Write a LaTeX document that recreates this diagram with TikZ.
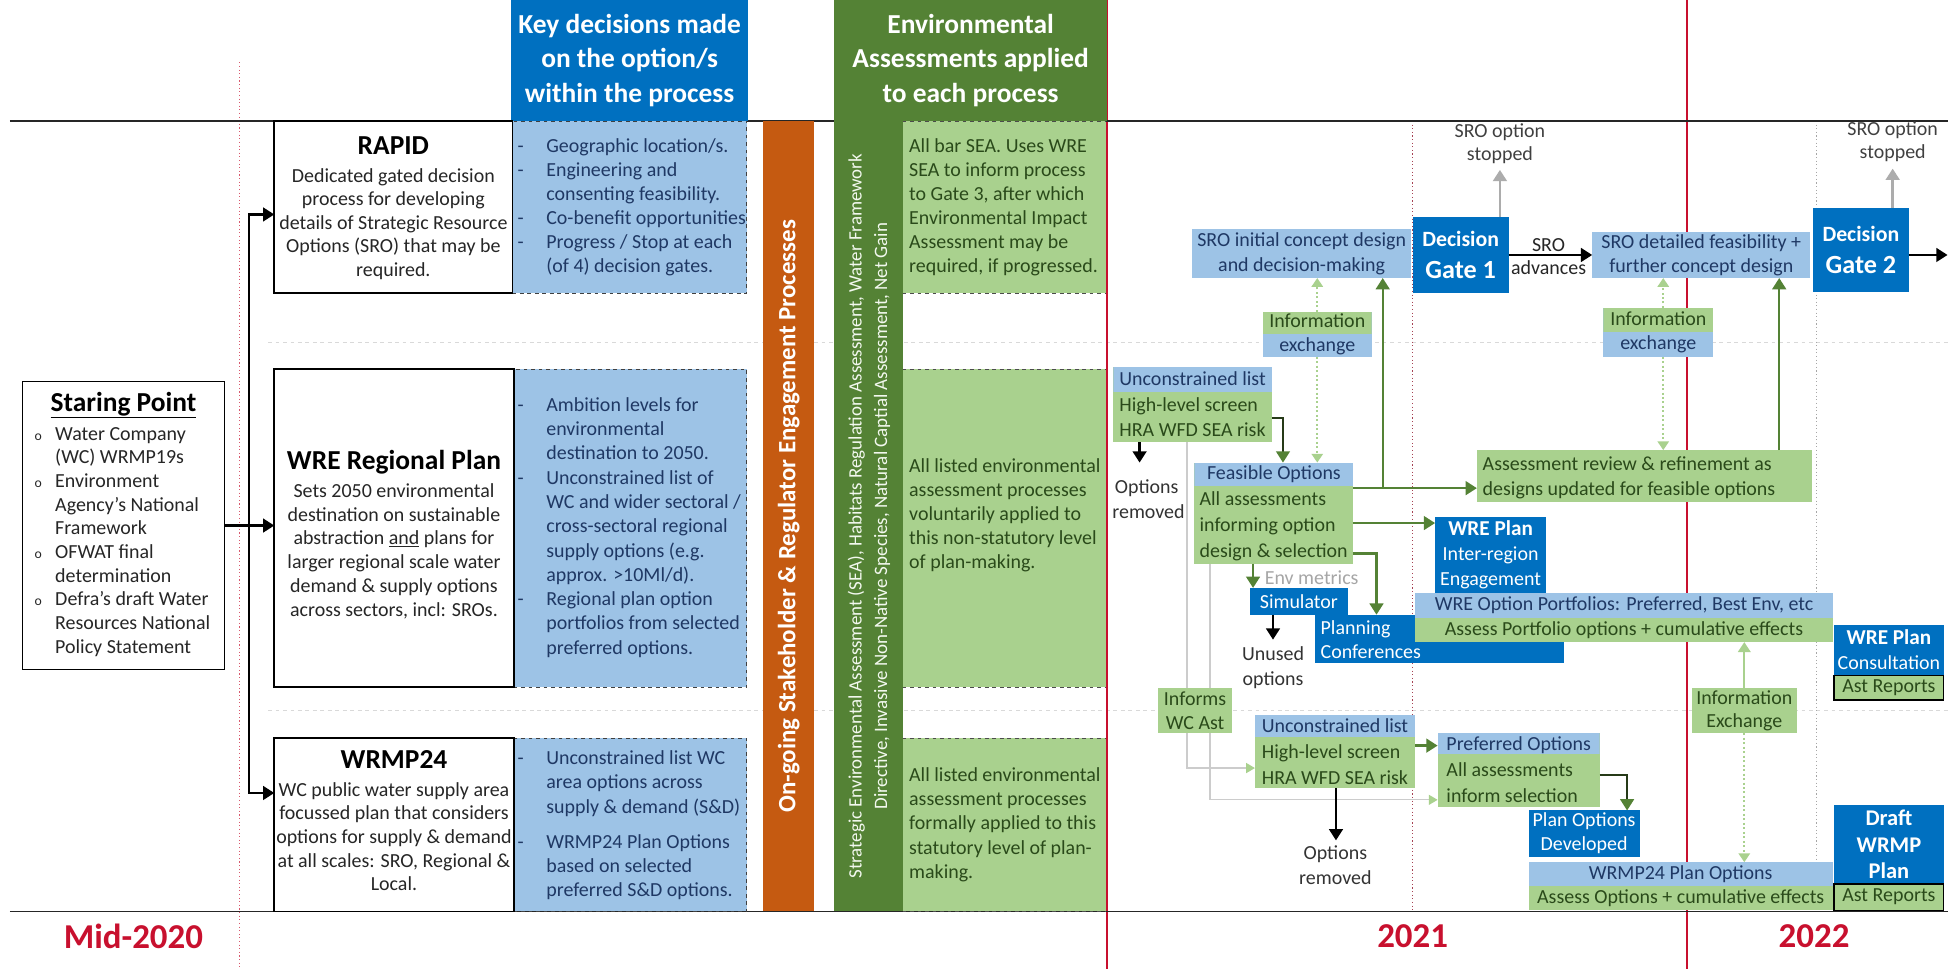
\documentclass[tikz,border=0pt]{standalone}
\usepackage{fontspec}
\setmainfont{Carlito}
\usetikzlibrary{arrows.meta}
\pgfdeclarelayer{bg}
\pgfsetlayers{bg,main}
\definecolor{dblue}{HTML}{0070C0}
\definecolor{lblue}{HTML}{9DC3E6}
\definecolor{lgreen}{HTML}{A9D18E}
\definecolor{dgreen}{HTML}{548235}
\definecolor{orng}{HTML}{C55A11}
\definecolor{redl}{HTML}{C8102E}
\definecolor{navy}{HTML}{1F3864}
\definecolor{dkg}{HTML}{2A4A1A}
\definecolor{txtc}{HTML}{262626}
\newcommand{\fsb}{\fontsize{16}{19.3}\selectfont}
\newcommand{\fst}{\fontsize{22}{26}\selectfont\bfseries}
\newcommand{\fsh}{\fontsize{22}{27.5}\selectfont\bfseries}
\newcommand{\mybul}{\makebox[16.6pt][l]{\fontsize{11}{11}\selectfont o}}
\newcommand{\myind}{\makebox[16.6pt][l]{}}
\newcommand{\mydsh}{\makebox[23pt][l]{-}}
\newcommand{\mynd}{\makebox[23pt][l]{}}
\begin{document}
\begin{tikzpicture}[x=1pt,y=-1pt,
  box/.style={inner sep=0pt, outer sep=0pt, anchor=north west},
  blkbox/.style={box, draw=black, line width=1.3pt, fill=white},
  kdbox/.style={box, fill=lblue, draw=black!75, dashed, line width=0.6pt},
  eabox/.style={box, fill=lgreen},
  txt/.style={inner sep=0pt, font=\fsb, text=txtc},
  band/.style={fill=lgreen, path picture={\fill[lblue] (path picture bounding box.north west) rectangle ([yshift=-#1pt]path picture bounding box.north east);}},
  gband/.style={fill=lblue, path picture={\fill[lgreen] (path picture bounding box.north west) rectangle ([yshift=-#1pt]path picture bounding box.north east);}},
  barr/.style={draw=black, line width=1.8pt, -{Triangle[length=9pt,width=11pt]}},
  garr/.style={draw=dgreen, line width=1.8pt, -{Triangle[length=9pt,width=11pt]}},
  gdk/.style={draw=black!55!dgreen, line width=1.6pt, -{Triangle[length=9pt,width=11pt,color=dgreen]}},
  grarr/.style={draw=gray!65, line width=2pt, -{Triangle[length=9pt,width=11pt]}},
  ldot/.style={draw=lgreen, line width=1.6pt, dotted, -{Triangle[length=7pt,width=9pt]}},
  lsol/.style={draw=lgreen, line width=1.8pt, -{Triangle[length=8pt,width=10pt]}},
  gline/.style={draw=gray!40, line width=1pt, -{Triangle[length=7pt,width=8pt,color=lgreen]}},
  dbx/.style={box, fill=dblue, text=white, align=center}
]
\useasboundingbox (0,0) rectangle (1568,777);

% ===== left: starting point =====
\node[blkbox, minimum width=162, minimum height=231] (start) at (18,306) {};
\node[txt, font=\fst, text=black] (starttl) at (99,325) {\underline{Staring Point}};
\node[txt, anchor=west, align=left, font=\fontsize{16}{19}\selectfont] (startls) at (27.5,434.5) {\mybul Water Company\\ \myind (WC) WRMP19s\\ \mybul Environment\\ \myind Agency’s National\\ \myind Framework\\ \mybul OFWAT final\\ \myind determination\\ \mybul Defra’s draft Water\\ \myind Resources National\\ \myind Policy Statement};

% ===== key decisions column =====
\node[dbx, minimum width=190, minimum height=97, font=\fsh] (kdh) at (410,0) {Key decisions made\\on the option/s\\within the process};
\node[kdbox, minimum width=188, minimum height=138] (kd1) at (411,97) {};
\node[kdbox, minimum width=187, minimum height=255] (kd2) at (412,296) {};
\node[kdbox, minimum width=187, minimum height=139] (kd3) at (412,592) {};

% ===== process boxes =====
\node[blkbox, minimum width=191, minimum height=138] (rapid) at (220,97) {};
\node[blkbox, minimum width=192, minimum height=255] (wre) at (220,296) {};
\node[blkbox, minimum width=192, minimum height=139] (wrmp) at (220,592) {};

\node[txt, font=\fst, text=black] (rapidtl) at (315.5,117) {RAPID};
\node[txt, align=center, font=\fontsize{16}{18.8}\selectfont] (rapidtx) at (315.5,179.5) {Dedicated gated decision\\process for developing\\details of Strategic Resource\\Options (SRO) that may be\\required.};
\node[txt, font=\fst, text=black] (wretl) at (316,371) {WRE Regional Plan};
\node[txt, align=center, font=\fontsize{16}{19.1}\selectfont] (wretx) at (316,442) {Sets 2050 environmental\\destination on sustainable\\abstraction \underline{and} plans for\\larger regional scale water\\demand \& supply options\\across sectors, incl: SROs.};
\node[txt, font=\fst, text=black] (wrmptl) at (316,609) {WRMP24};
\node[txt, align=center, font=\fontsize{16}{19}\selectfont] (wrmptx) at (316,671) {WC public water supply area\\focussed plan that considers\\options for supply \& demand\\at all scales: SRO, Regional \&\\Local.};

\node[txt, anchor=west, align=left, text=navy] (kd1tx) at (415,166) {\mydsh Geographic location/s.\\ \mydsh Engineering and\\ \mynd consenting feasibility.\\ \mydsh Co-benefit opportunities\\ \mydsh Progress / Stop at each\\ \mynd (of 4) decision gates.};
\node[txt, anchor=west, align=left, text=navy, font=\fontsize{16}{19.5}\selectfont] (kd2tx) at (415,423) {\mydsh Ambition levels for\\ \mynd environmental\\ \mynd destination to 2050.\\ \mydsh Unconstrained list of\\ \mynd WC and wider sectoral /\\ \mynd cross-sectoral regional\\ \mynd supply options (e.g.\\ \mynd approx. >10Ml/d).\\ \mydsh Regional plan option\\ \mynd portfolios from selected\\ \mynd preferred options.};
\node[txt, anchor=west, align=left, text=navy, font=\fontsize{16}{19.5}\selectfont] (kd3tx) at (415,662) {\mydsh Unconstrained list WC\\ \mynd area options across\\ \mynd supply \& demand (S\&D)\\[8.5pt] \mydsh WRMP24 Plan Options\\ \mynd based on selected\\ \mynd preferred S\&D options.};

% ===== engagement bar =====
\node[box, fill=orng, minimum width=41, minimum height=634] (orb) at (612,97) {};
\node[rotate=90, text=white, inner sep=0pt, font=\fontsize{20}{24}\selectfont\bfseries] (orbt) at (orb.center) {On-going Stakeholder \& Regulator Engagement Processes};

% ===== environmental assessments column =====
\node[dbx, fill=dgreen, minimum width=219, minimum height=97, font=\fsh] (eah) at (669,0) {Environmental\\Assessments applied\\to each process};
\node[box, fill=dgreen, minimum width=55, minimum height=634] (egb) at (669,97) {};
\node[rotate=90, inner sep=0pt, text=white!85!lgreen, align=center, font=\fontsize{15.2}{20.5}\selectfont] (egbt) at (697,414) {Strategic Environmental Assessment (SEA), Habitats Regulation Assessment, Water Framework\\Directive, Invasive Non-Native Species, Natural Captial Assessment, Net Gain};
\node[eabox, minimum width=163, minimum height=138] (ea1) at (724,97) {};
\node[eabox, minimum width=163, minimum height=255] (ea2) at (724,296) {};
\node[eabox, minimum width=163, minimum height=139] (ea3) at (724,592) {};
\foreach \e in {ea1,ea2,ea3}{
  \draw[dashed, black!70, line width=0.6pt] (\e.north west) -- (\e.north east) (\e.south west) -- (\e.south east);
}
\node[txt, anchor=west, align=left, text=dkg] (ea1tx) at (729,166) {All bar SEA. Uses WRE\\SEA to inform process\\to Gate 3, after which\\Environmental Impact\\Assessment may be\\required, if progressed.};
\node[txt, anchor=west, align=left, text=dkg] (ea2tx) at (729,413) {All listed environmental\\assessment processes\\voluntarily applied to\\this non-statutory level\\of plan-making.};
\node[txt, anchor=west, align=left, text=dkg] (ea3tx) at (729,661.5) {All listed environmental\\assessment processes\\formally applied to this\\statutory level of plan-\\making.};

% ===== timeline: SRO row =====
\node[box, fill=lblue, minimum width=176, minimum height=39, text=navy, align=center, font=\fontsize{16}{19.5}\selectfont] (sroinit) at (956,184) {SRO initial concept design\\and decision-making};
\node[dbx, minimum width=77, minimum height=61, font=\fontsize{19}{25}\selectfont\bfseries] (gate1) at (1133,174) {{\fontsize{17.5}{21}\selectfont Decision}\\{\fontsize{21}{25}\selectfont Gate 1}};
\node[box, fill=lblue, minimum width=175, minimum height=37, text=navy, align=center, font=\fontsize{16}{19.5}\selectfont] (srodet) at (1277,186) {SRO detailed feasibility +\\further concept design};
\node[dbx, minimum width=77, minimum height=67, font=\fontsize{19}{25}\selectfont\bfseries] (gate2) at (1454,167) {{\fontsize{17.5}{21}\selectfont Decision}\\{\fontsize{21}{25}\selectfont Gate 2}};
\node[txt, align=center, text=black!75, font=\fontsize{16}{18.5}\selectfont] (stop1) at (1203,115) {SRO option\\stopped};
\node[txt, align=center, text=black!75, font=\fontsize{16}{18.5}\selectfont] (stop2) at (1518,114) {SRO option\\stopped};
\node[txt, align=center, text=black!85, font=\fontsize{16}{18.5}\selectfont] (advl) at (1242,206) {SRO\\advances};

\node[box, gband=18, minimum width=87, minimum height=36, align=center, font=\fontsize{16}{19.5}\selectfont] (info1) at (1013,250) {\textcolor{dkg}{Information}\\\textcolor{navy}{exchange}};
\node[box, gband=19.5, minimum width=88, minimum height=39, align=center, font=\fontsize{16}{19.5}\selectfont] (info2) at (1286,247) {\textcolor{dkg}{Information}\\\textcolor{navy}{exchange}};

% ===== timeline: WRE row =====
\node[box, band=20, minimum width=127, minimum height=60.5, align=left, font=\fontsize{16}{20.7}\selectfont] (uncon1) at (893,294) {\textcolor{navy}{Unconstrained list}\\\textcolor{dkg}{High-level screen}\\\textcolor{dkg}{HRA WFD SEA risk}};
\node[box, band=19, minimum width=127, minimum height=81, align=left, font=\fontsize{16}{21}\selectfont] (feas) at (958,371) {\textcolor{navy}{\hspace*{6pt}Feasible Options}\\\textcolor{dkg}{All assessments}\\\textcolor{dkg}{informing option}\\\textcolor{dkg}{design \& selection}};
\node[box, fill=lgreen, minimum width=268.5, minimum height=41.5] (assrev) at (1184.5,361) {};
\node[txt, anchor=west, align=left, text=dkg, font=\fontsize{16}{20}\selectfont] (assrevtx) at (1189,383) {Assessment review \& refinement as\\designs updated for feasible options};
\node[dbx, minimum width=89, minimum height=61, font=\fontsize{16}{20}\selectfont] (wreplan) at (1151,414.5) {{\fontsize{17}{20}\selectfont\bfseries WRE Plan}\\Inter-region\\Engagement};
\node[dbx, minimum width=78.5, minimum height=21.5, font=\fontsize{16}{19}\selectfont] (sim) at (1002.5,471.5) {Simulator};
\node[txt, text=gray!70] (envm) at (1052,463.5) {Env metrics};
\node[box, fill=dblue, minimum width=199, minimum height=39] (planconf) at (1055,493) {};
\node[txt, anchor=west, align=left, text=white, font=\fontsize{16}{20}\selectfont] (planconftx) at (1059,513) {Planning\\Conferences};
\node[box, band=19.5, minimum width=335, minimum height=39, align=center, font=\fontsize{16}{20}\selectfont] (wreport) at (1135,476) {\textcolor{navy}{WRE Option Portfolios: Preferred, Best Env, etc}\\\textcolor{dkg}{Assess Portfolio options + cumulative effects}};
\node[dbx, minimum width=88, minimum height=40.5, font=\fontsize{16}{20}\selectfont] (wrecons) at (1471,501) {{\fontsize{17}{20}\selectfont\bfseries WRE Plan}\\Consultation};
\node[box, fill=lgreen, draw=black, line width=1pt, minimum width=88, minimum height=20, text=dkg, font=\fsb] (ast1) at (1471,541.5) {Ast Reports};
\node[txt, anchor=west, align=left, text=black!80, font=\fontsize{16}{20}\selectfont] (rm1) at (892,400.5) {\hspace*{2pt}Options\\removed};
\node[txt, align=center, text=black!80, font=\fontsize{16}{20}\selectfont] (unused) at (1021,535.5) {Unused\\options};

% ===== timeline: WRMP24 row =====
\node[box, fill=lgreen, minimum width=84, minimum height=36, align=center, text=dkg, font=\fontsize{16}{19}\selectfont] (info3) at (1357,552) {Information\\Exchange};
\node[box, fill=lgreen, minimum width=59, minimum height=36, align=center, text=dkg, font=\fontsize{16}{19}\selectfont] (informs) at (929,552) {Informs\\WC Ast};
\node[box, band=17.5, minimum width=128.5, minimum height=58.5, align=left, font=\fontsize{16}{20.7}\selectfont] (uncon2) at (1006.5,573.5) {\textcolor{navy}{Unconstrained list}\\\textcolor{dkg}{High-level screen}\\\textcolor{dkg}{HRA WFD SEA risk}};
\node[box, band=17, minimum width=130, minimum height=59, align=left, font=\fontsize{16}{20.7}\selectfont] (pref) at (1153,588) {\textcolor{navy}{Preferred Options}\\\textcolor{dkg}{All assessments}\\\textcolor{dkg}{inform selection}};
\node[dbx, minimum width=89, minimum height=37, font=\fontsize{16}{19}\selectfont] (plandev) at (1226,650) {Plan Options\\Developed};
\node[box, band=19.5, minimum width=244, minimum height=38.5, align=center, font=\fontsize{16}{19}\selectfont] (wrmpopt) at (1226,691.5) {\textcolor{navy}{WRMP24 Plan Options}\\\textcolor{dkg}{Assess Options + cumulative effects}};
\node[dbx, minimum width=88, minimum height=63.5, font=\fontsize{18}{21.5}\selectfont\bfseries] (draft) at (1471,645.5) {Draft\\WRMP\\Plan};
\node[box, fill=lgreen, draw=black, line width=1pt, minimum width=88, minimum height=21, text=dkg, font=\fsb] (ast2) at (1471,709) {Ast Reports};
\node[txt, align=center, text=black!80, font=\fontsize{16}{20}\selectfont] (rm2) at (1071,694) {Options\\removed};

% ===== year labels =====
\node[txt, text=redl, font=\fontsize{28}{30}\selectfont\bfseries] (y20) at (107,751) {Mid-2020};
\node[txt, text=redl, font=\fontsize{28}{30}\selectfont\bfseries] (y21) at (1133,751) {2021};
\node[txt, text=redl, font=\fontsize{28}{30}\selectfont\bfseries] (y22) at (1455,751) {2022};

% ===== background lines =====
\begin{pgfonlayer}{bg}
  \fill[white] (0,0) rectangle (1568,777);
  \draw[gray!30, dashed, line width=0.8pt] (215,275) -- (1562,275);
  \draw[gray!30, dashed, line width=0.8pt] (215,570) -- (1562,570);
  \draw[redl, line width=1.1pt] (888,0) -- (888,777);
  \draw[redl, line width=1.1pt] (1353,0) -- (1353,777);
  \draw[redl!70, dotted, line width=0.9pt] (192,50) -- (192,777);
  \draw[redl!55!gray, dotted, line width=0.9pt] (1133,97) -- (1133,731);
  \draw[gray!70, dotted, line width=0.9pt] (1457,97) -- (1457,731);
  \draw[black!85, line width=1.4pt] (8,97) -- (1562,97);
  \draw[black!85, line width=1.4pt] (8,731) -- (1562,731);
  \coordinate (gl1) at (952,616);
  \draw[gline] (uncon1.south -| gl1) -- (gl1) -- (uncon2.west |- gl1);
  \coordinate (gl2) at (970.5,641.5);
  \draw[gline] (feas.south -| gl2) -- (gl2) -- (pref.west |- gl2);
\end{pgfonlayer}

% ===== left connectors =====
\coordinate (vtop) at (200,172);
\coordinate (vbot) at (200,636);
\draw[barr] (vbot) -- (vtop) -- (vtop -| rapid.west);
\draw[barr] (vtop) -- (vbot) -- (vbot -| wrmp.west);
\draw[barr] (start.east) -- (start.east -| wre.west);

% ===== timeline connectors =====
\draw[grarr, shorten >=5pt] (gate1.north -| stop1.south) -- (stop1.south);
\draw[grarr, shorten >=5pt] (gate2.north -| stop2.south) -- (stop2.south);
\draw[barr] (gate1.east) -- (srodet.west);
\coordinate (gend) at (1562,204.5);
\draw[barr] (gate2.east |- gend) -- (gend);

\coordinate (fj) at (1109,391.5);
\draw[garr] (feas.east |- fj) -- (assrev.west |- fj);
\draw[garr] (fj) -- (fj |- sroinit.south);
\coordinate (fk) at (1110,419.5);
\draw[garr] (feas.east |- fk) -- (wreplan.west |- fk);
\coordinate (fl) at (1104,444);
\draw[garr] (feas.east |- fl) -- (fl) -- (fl |- planconf.north);
\coordinate (fm) at (1005,460);
\draw[garr] (feas.south -| fm) -- (sim.north -| fm);
\coordinate (ua) at (1029,335);
\draw[gdk] (uncon1.east |- ua) -- (ua) -- (ua |- feas.north);
\coordinate (ab) at (1427,300);
\draw[garr] (assrev.north -| ab) -- (srodet.south -| ab);
\coordinate (up) at (1140,598);
\draw[garr] (uncon2.east |- up) -- (pref.west |- up);
\coordinate (pp) at (1305,621.5);
\draw[gdk] (pref.east |- pp) -- (pp) -- (pp |- plandev.north);

\draw[lsol] (info3.north) -- (info3.north |- wreport.south);
\draw[ldot] (info3.south) -- (info3.south |- wrmpopt.north);
\draw[ldot] (info1.north) -- (info1.north |- sroinit.south);
\draw[ldot] (info1.south) -- (info1.south |- feas.north);
\coordinate (i2) at (1334,300);
\draw[ldot] (info2.north -| i2) -- (srodet.south -| i2);
\draw[ldot] (info2.south -| i2) -- (assrev.north -| i2);

\coordinate (or1) at (914,371);
\draw[barr] (uncon1.south -| or1) -- (or1);
\coordinate (un) at (1021,513);
\draw[barr] (sim.south -| un) -- (un);
\coordinate (or2) at (1071.5,674);
\draw[barr] (uncon2.south -| or2) -- (or2);
\end{tikzpicture}
\end{document}
